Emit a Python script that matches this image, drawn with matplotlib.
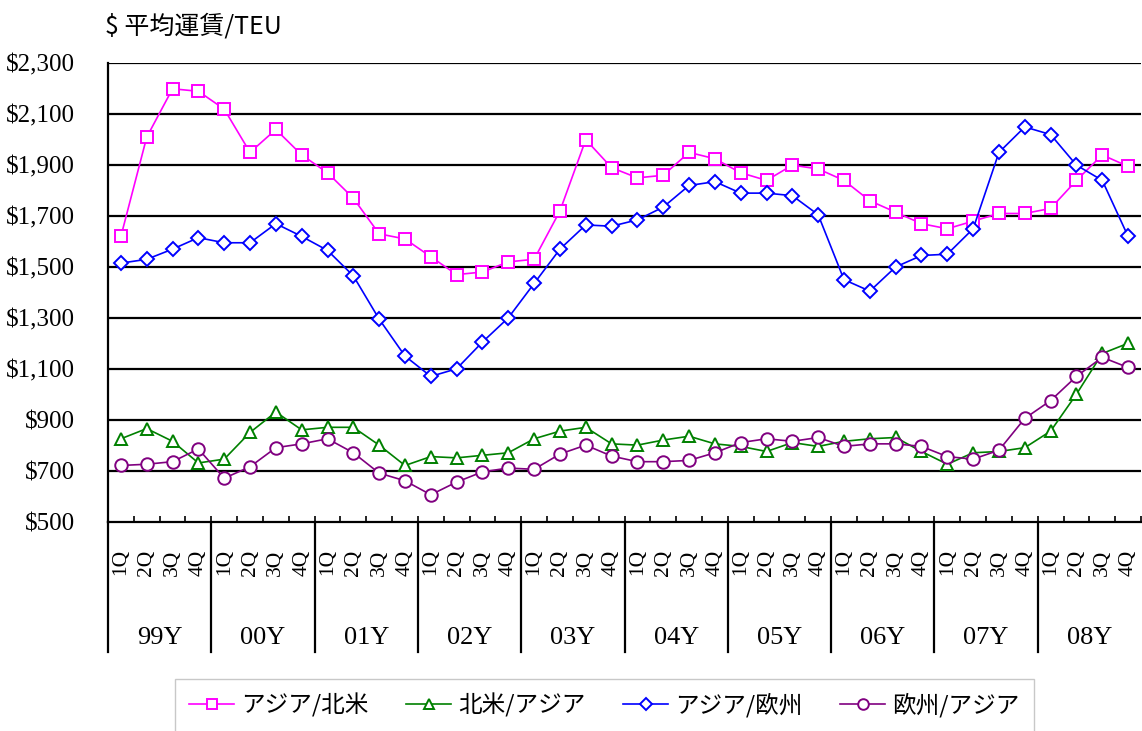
import numpy as np
import matplotlib
matplotlib.use("Agg")
import matplotlib.pyplot as plt
from matplotlib.transforms import blended_transform_factory

years = ["99Y", "00Y", "01Y", "02Y", "03Y", "04Y", "05Y", "06Y", "07Y", "08Y"]
quarters = ["1Q", "2Q", "3Q", "4Q"]

asia_na = [1620, 2010, 2200, 2190, 2120, 1950, 2040, 1940, 1870, 1770,
           1630, 1610, 1540, 1470, 1480, 1520, 1530, 1720, 2000, 1890,
           1850, 1860, 1950, 1925, 1870, 1840, 1900, 1885, 1840, 1760,
           1715, 1670, 1650, 1680, 1710, 1710, 1730, 1840, 1940, 1895]
na_asia = [825, 865, 815, 730, 745, 850, 930, 860, 870, 870,
           800, 720, 755, 750, 760, 770, 825, 855, 870, 805,
           800, 820, 835, 805, 795, 775, 810, 795, 815, 825,
           830, 775, 725, 770, 775, 790, 855, 1000, 1160, 1200]
asia_eu = [1515, 1530, 1570, 1615, 1595, 1595, 1670, 1620, 1565, 1465,
           1295, 1150, 1070, 1100, 1205, 1300, 1435, 1570, 1665, 1660,
           1685, 1735, 1820, 1835, 1790, 1790, 1780, 1705, 1450, 1405,
           1500, 1545, 1550, 1650, 1950, 2050, 2020, 1900, 1840, 1620]
eu_asia = [720, 725, 735, 785, 670, 715, 790, 805, 825, 770,
           690, 660, 605, 655, 695, 710, 705, 765, 800, 757,
           735, 735, 740, 770, 810, 825, 815, 830, 795, 805,
           805, 795, 755, 745, 780, 905, 975, 1070, 1145, 1105]

series_names = ["アジア/北米", "北米/アジア", "アジア/欧州", "欧州/アジア"]
yticks = [500, 700, 900, 1100, 1300, 1500, 1700, 1900, 2100, 2300]

W, H = 1142, 731
fig = plt.figure(figsize=(W / 100, H / 100), dpi=100)
left, right, top, bottom = 108, 1141, 63.3, 521.5
ax = fig.add_axes([left / W, 1 - bottom / H, (right - left) / W, (bottom - top) / H])

x = np.arange(len(asia_na)) + 0.5
serif = "Liberation Serif"
cjk = ["Noto Sans CJK JP", "DejaVu Sans"]

styles = [
    (asia_na, "#FF00FF", "s", 8.5),
    (na_asia, "#008000", "^", 8.5),
    (asia_eu, "#0000FF", "D", 7),
    (eu_asia, "#800080", "o", 9),
]
for (vals, col, mk, ms), name in zip(styles, series_names):
    ax.plot(x, vals, color=col, lw=1.2, marker=mk, ms=ms, mfc="white",
            mec=col, mew=1.4, label=name, zorder=3, clip_on=False)

ax.set_xlim(0, 40)
ax.set_ylim(500, 2300)
ax.set_yticks(yticks)
ax.set_yticklabels([f"${v:,}" for v in yticks], fontfamily=serif, fontsize=18)
ax.tick_params(axis="y", length=0, pad=24)
for v in yticks[1:]:
    ax.axhline(v, color="black", lw=1.6, zorder=1)

ax.set_xticks(x)
ax.set_xticklabels(quarters * len(years), rotation=90, fontfamily=serif, fontsize=15.5)
ax.tick_params(axis="x", which="major", length=0, pad=20)
ax.set_xticks(np.arange(0, 41), minor=True)
ax.tick_params(axis="x", which="minor", direction="in", length=4.5, width=1.2)

for s in ["top", "right"]:
    ax.spines[s].set_visible(False)
ax.spines["left"].set_linewidth(1.6)
ax.spines["bottom"].set_linewidth(1.6)

trans = blended_transform_factory(ax.transData, ax.transAxes)
y_sep = (bottom - 652) / (bottom - top)
y_year = (bottom - 638) / (bottom - top)
for k, yr in enumerate(years):
    ax.plot([4 * k, 4 * k], [0, y_sep], color="black", lw=1.6, transform=trans, clip_on=False)
    ax.text(4 * k + 2, y_year, yr, transform=trans, ha="center", va="center",
            fontfamily=serif, fontsize=19)

fig.text(105 / W, 1 - 27 / H, "$ 平均運賃/TEU", fontfamily=cjk, fontsize=18,
         ha="left", va="center")

leg = fig.legend(loc="upper left", bbox_to_anchor=(175 / W, 1 - 679 / H), ncol=4,
                 prop={"family": cjk, "size": 17}, frameon=True, fancybox=False,
                 edgecolor="#BBBBBB", handlelength=1.9, handletextpad=0.3,
                 columnspacing=1.6, borderpad=0.6, borderaxespad=0, markerscale=0.85)
leg.get_frame().set_linewidth(1.0)

fig.savefig("out.png", dpi=100)
